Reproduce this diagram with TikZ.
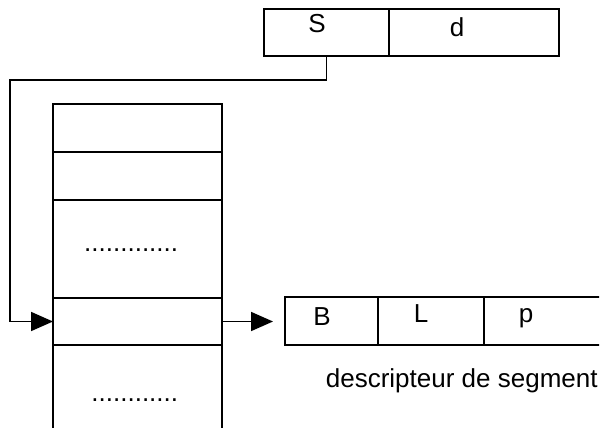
\documentclass[tikz,border=0pt]{standalone}
\usepackage{fontspec}
\setmainfont{Liberation Sans}
\usetikzlibrary{positioning}
\usetikzlibrary{arrows.meta}

\begin{document}
\begin{tikzpicture}[x=1pt,y=-1pt,line width=1.8pt,
  cell/.style={draw,rectangle,inner sep=0pt,outer sep=0pt,anchor=north west},
  txt/.style={inner sep=0pt,anchor=base,font=\fontsize{26}{30}\selectfont},
  >={Triangle[length=22pt,width=19pt]}]
\useasboundingbox (0,0) rectangle (603,428);
\clip (0,0) rectangle (599,428);

% adresse (s,d)
\node[cell,minimum width=125pt,minimum height=47pt] (s) at (264,9) {};
\node[cell,minimum width=170pt,minimum height=47pt] (d) [right=0pt of s] {};
\node[txt] (ts) at (317,33) {S};
\node[txt] (td) at (457,37) {d};

% table des segments
\node[cell,minimum width=169pt,minimum height=48pt] (r1) at (53,104) {};
\node[cell,minimum width=169pt,minimum height=48pt] (r2) [below=0pt of r1] {};
\node[cell,minimum width=169pt,minimum height=98pt] (r3) [below=0pt of r2] {};
\node[cell,minimum width=169pt,minimum height=47pt] (r4) [below=0pt of r3] {};
\node[cell,minimum width=169pt,minimum height=100pt] (r5) [below=0pt of r4] {};
\node[txt,anchor=base east] (dots1) at (179,251) {.............};
\node[txt,anchor=base east] (dots2) at (179,401) {............};

% descripteur
\node[cell,minimum width=93pt,minimum height=48pt] (b) at (285,297) {};
\node[cell,minimum width=106pt,minimum height=48pt] (l) [right=0pt of b] {};
\node[cell,minimum width=150pt,minimum height=48pt] (p) [right=0pt of l] {};
\node[txt] (tb) at (322,325) {B};
\node[txt] (tl) at (421,322) {L};
\node[txt] (tp) at (526,322) {p};
\node[txt,anchor=base west] (cap) at (325,387) {descripteur de segment};

\coordinate (bend) at (10,80);
\draw[->] (s.south) |- (bend) |- (r4.west);
\draw[->,shorten >=12pt] (r4.east) -- (r4.east -| b.west);

\end{tikzpicture}
\end{document}
